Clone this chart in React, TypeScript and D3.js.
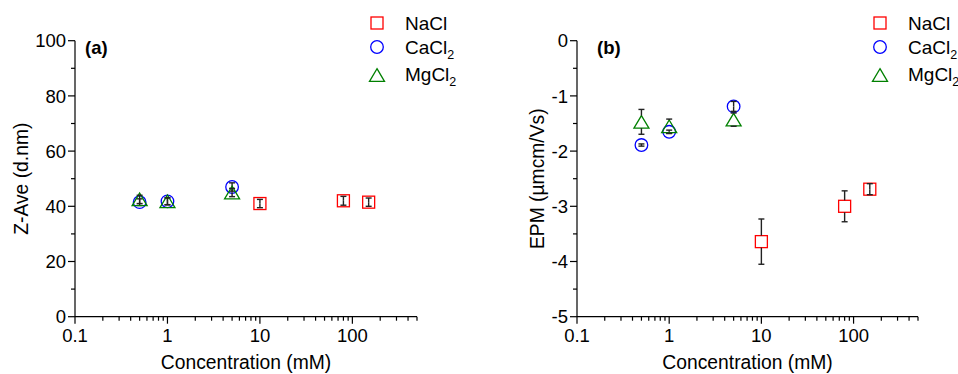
import React from "react";
import * as d3 from "d3";

// ---- Data ----
const naclA = [
  { x: 10, y: 41.0, e: 1.5 },
  { x: 80, y: 42.0, e: 1.6 },
  { x: 150, y: 41.5, e: 1.5 },
];
const caclA = [
  { x: 0.5, y: 41.5, e: 1.2 },
  { x: 1, y: 41.8, e: 1.2 },
  { x: 5, y: 47.0, e: 1.5 },
];
const mgclA = [
  { x: 0.5, y: 42.5, e: 1.5 },
  { x: 1, y: 41.8, e: 1.3 },
  { x: 5, y: 45.0, e: 1.5 },
];
const naclB = [
  { x: 10, y: -3.64, e: 0.41 },
  { x: 80, y: -3.0, e: 0.28 },
  { x: 150, y: -2.69, e: 0.1 },
];
const caclB = [
  { x: 0.5, y: -1.89, e: 0.02 },
  { x: 1, y: -1.65, e: 0.03 },
  { x: 5, y: -1.19, e: 0.09 },
];
const mgclB = [
  { x: 0.5, y: -1.47, e: 0.225 },
  { x: 1, y: -1.55, e: 0.13 },
  { x: 5, y: -1.43, e: 0.12 },
];
const xMajorTicks = [0.1, 1, 10, 100];
const yTicksA = [0, 20, 40, 60, 80, 100];
const yTicksB = [0, -1, -2, -3, -4, -5];

const FONT = "'Liberation Sans', Arial, Helvetica, sans-serif";
const RED = "#ff0000";
const BLUE = "#0000ff";
const GREEN = "#008000";
const ERR = "#222222";

type Pt = { x: number; y: number; e: number };

function Marker({ kind, cx, cy }: { kind: string; cx: number; cy: number }) {
  if (kind === "square")
    return <rect x={cx - 6} y={cy - 6} width={12} height={12} fill="none" stroke={RED} strokeWidth={1.3} />;
  if (kind === "circle")
    return <circle cx={cx} cy={cy} r={6.3} fill="none" stroke={BLUE} strokeWidth={1.3} />;
  const w = 7.5, h = 6.3;
  return (
    <path
      d={`M${cx},${cy - h}L${cx + w},${cy + h}L${cx - w},${cy + h}Z`}
      fill="none"
      stroke={GREEN}
      strokeWidth={1.3}
    />
  );
}

function ErrBar({ cx, y0, y1, yc, half }: { cx: number; y0: number; y1: number; yc: number; half: number }) {
  const segs: [number, number][] = [];
  if (yc - y0 > half) segs.push([y0, yc - half]);
  else segs.push([y0, yc]);
  if (y1 - yc > half) segs.push([yc + half, y1]);
  else segs.push([yc, y1]);
  return (
    <g stroke={ERR} strokeWidth={1.4}>
      {segs.map((s, i) => (
        <line key={i} x1={cx} x2={cx} y1={s[0]} y2={s[1]} />
      ))}
      <line x1={cx - 3} x2={cx + 3} y1={y0} y2={y0} />
      <line x1={cx - 3} x2={cx + 3} y1={y1} y2={y1} />
    </g>
  );
}

function Panel({
  left, right, top, bottom, yDomain, yTicks, yMinor, yTitle, yTitleX, label, labelX, series, legendX,
}: any) {
  const x = d3.scaleLog().domain([0.1, 500]).range([left, right]);
  const y = d3.scaleLinear().domain(yDomain).range([bottom, top]);
  const minorX: number[] = [];
  for (const dec of [0.1, 1, 10, 100]) {
    for (let k = 2; k <= 9; k++) {
      const v = dec * k;
      if (v <= 500) minorX.push(v);
    }
  }
  const kinds = ["square", "circle", "triangle"];
  const halves = [6, 6.3, 6.3];
  const names = ["NaCl", "CaCl", "MgCl"];
  const legendY = [23, 47, 75];
  const legendBase = [29.5, 53.5, 80.5];
  return (
    <g fontFamily={FONT}>
      <line x1={left} x2={left} y1={top} y2={bottom} stroke="#000" strokeWidth={1.2} />
      <line x1={left} x2={right} y1={bottom} y2={bottom} stroke="#000" strokeWidth={1.2} />
      {yTicks.map((t: number) => (
        <g key={"yt" + t}>
          <line x1={left - 7} x2={left} y1={y(t)} y2={y(t)} stroke="#000" strokeWidth={1.2} />
          <text x={left - 9} y={y(t) + 6.6} fontSize={18.5} textAnchor="end">
            {t < 0 ? "-" + Math.abs(t) : t}
          </text>
        </g>
      ))}
      {yMinor.map((t: number) => (
        <line key={"ym" + t} x1={left - 4} x2={left} y1={y(t)} y2={y(t)} stroke="#000" strokeWidth={1.2} />
      ))}
      {xMajorTicks.map((t) => (
        <g key={"xt" + t}>
          <line x1={x(t)} x2={x(t)} y1={bottom} y2={bottom + 7} stroke="#000" strokeWidth={1.2} />
          <text x={x(t)} y={bottom + 25} fontSize={18.5} textAnchor="middle">
            {t}
          </text>
        </g>
      ))}
      {minorX.map((t) => (
        <line key={"xm" + t} x1={x(t)} x2={x(t)} y1={bottom} y2={bottom + 4} stroke="#000" strokeWidth={1.2} />
      ))}
      <text x={(left + right) / 2} y={369} fontSize={19.3} textAnchor="middle">
        Concentration (mM)
      </text>
      <text
        transform={`translate(${yTitleX},${(top + bottom) / 2}) rotate(-90)`}
        fontSize={19.3}
        textAnchor="middle"
      >
        {yTitle}
      </text>
      <text x={labelX} y={54} fontSize={18.5} fontWeight="bold">
        {label}
      </text>
      {series.map((s: Pt[], si: number) =>
        s.map((p, i) => {
          const cx = x(p.x), cy = y(p.y);
          return (
            <g key={si + "-" + i}>
              <Marker kind={kinds[si]} cx={cx} cy={cy} />
              <ErrBar cx={cx} y0={y(p.y + p.e)} y1={y(p.y - p.e)} yc={cy} half={halves[si]} />
            </g>
          );
        })
      )}
      {kinds.map((k, i) => (
        <g key={"lg" + k}>
          <Marker kind={k} cx={legendX} cy={legendY[i]} />
          <text x={legendX + 28} y={legendBase[i]} fontSize={19}>
            {names[i]}
            {i > 0 ? (
              <tspan fontSize={12.5} dy={5}>
                2
              </tspan>
            ) : null}
          </text>
        </g>
      ))}
    </g>
  );
}

export default function App() {
  return (
    <svg width={958} height={374} style={{ display: "block", position: "absolute", left: 0, top: 0, background: "#fff" }}>
      <rect width={958} height={374} fill="#fff" />
      <Panel
        left={75}
        right={417}
        top={40.7}
        bottom={316.7}
        yDomain={[0, 100]}
        yTicks={yTicksA}
        yMinor={[10, 30, 50, 70, 90]}
        yTitle="Z-Ave (d.nm)"
        yTitleX={28}
        label="(a)"
        labelX={85}
        series={[naclA, caclA, mgclA]}
        legendX={377}
      />
      <Panel
        left={577}
        right={918}
        top={40.7}
        bottom={316.7}
        yDomain={[-5, 0]}
        yTicks={yTicksB}
        yMinor={[-0.5, -1.5, -2.5, -3.5, -4.5]}
        yTitle="EPM (µmcm/Vs)"
        yTitleX={543.5}
        label="(b)"
        labelX={597}
        series={[naclB, caclB, mgclB]}
        legendX={880}
      />
    </svg>
  );
}
